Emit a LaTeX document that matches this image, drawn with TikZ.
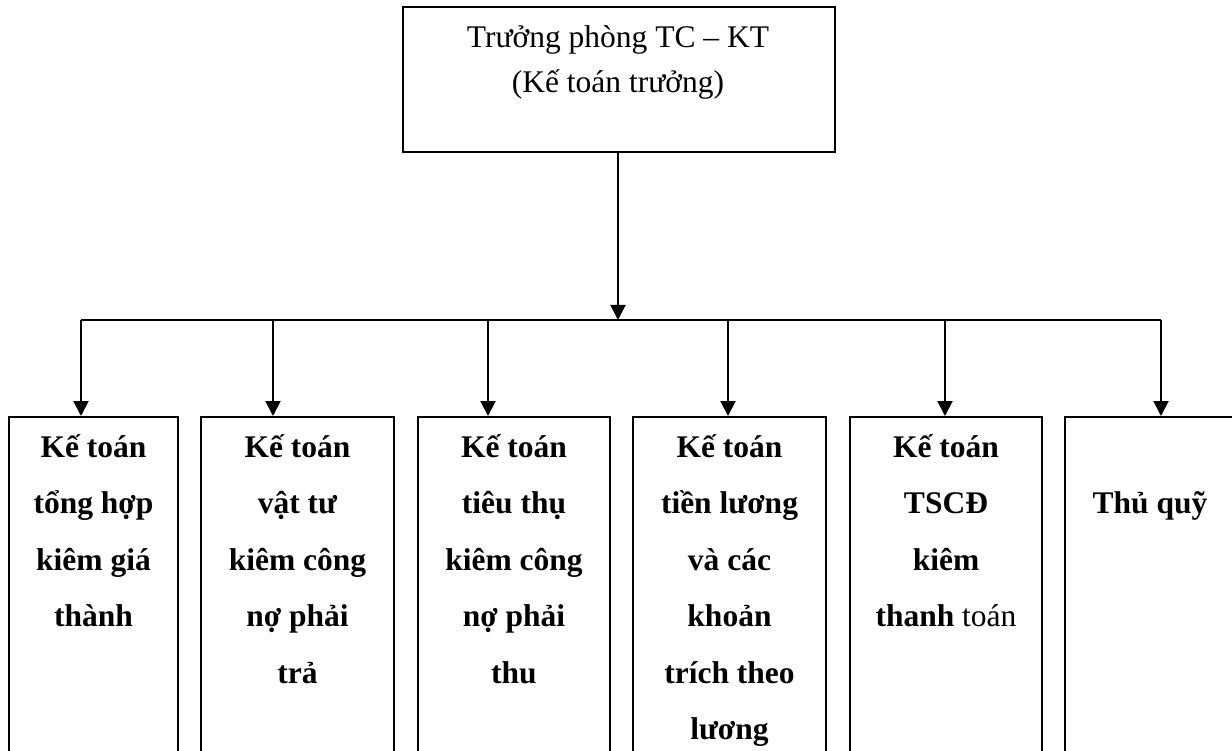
\documentclass[tikz,border=0pt]{standalone}
\usepackage{fontspec}
\setmainfont{Liberation Serif}
\usetikzlibrary{arrows.meta}
\begin{document}
\begin{tikzpicture}[x=1pt,y=-1pt,
  link/.style={line width=2pt},
  arr/.style={link,-{Triangle[length=15pt,width=15pt]}},
  headbox/.style={draw,line width=2pt,inner sep=0pt,minimum width=432pt,minimum height=145pt},
  unitbox/.style={draw,line width=2pt,inner sep=0pt,anchor=north west,minimum height=350pt},
  headtext/.style={inner sep=0pt,anchor=base,font=\fontsize{31.5}{45}\selectfont},
  unittext/.style={inner sep=0pt,anchor=base,font=\fontsize{31.5}{56.5}\selectfont\bfseries}]
\useasboundingbox (0,0) rectangle (1232,751);
\clip (0,0) rectangle (1232,751);

% chief accountant
\node[headbox] (head) at (619,79.5) {};
\node[headtext] (headlbl) at (618,48)
  {\begin{tabular}[t]{@{}c@{}}Trưởng phòng TC – KT\\(Kế toán trưởng)\end{tabular}};

% accounting units (open at the bottom of the page)
\node[unitbox,minimum width=169pt] (u1) at (8,416) {};
\node[unitbox,minimum width=193pt] (u2) at (200,416) {};
\node[unitbox,minimum width=192pt] (u3) at (417,416) {};
\node[unitbox,minimum width=193pt] (u4) at (632,416) {};
\node[unitbox,minimum width=192pt] (u5) at (849,416) {};
\node[unitbox,minimum width=170pt] (u6) at (1064,416) {};

\node[unittext] (l1) at (u1.north |- 0,457)
  {\begin{tabular}[t]{@{}c@{}}Kế toán\\tổng hợp\\kiêm giá\\thành\end{tabular}};
\node[unittext] (l2) at (u2.north |- 0,457)
  {\begin{tabular}[t]{@{}c@{}}Kế toán\\vật tư\\kiêm công\\nợ phải\\trả\end{tabular}};
\node[unittext] (l3) at (u3.north |- 0,457)
  {\begin{tabular}[t]{@{}c@{}}Kế toán\\tiêu thụ\\kiêm công\\nợ phải\\thu\end{tabular}};
\node[unittext] (l4) at (u4.north |- 0,457)
  {\begin{tabular}[t]{@{}c@{}}Kế toán\\tiền lương\\và các\\khoản\\trích theo\\lương\end{tabular}};
\node[unittext] (l5) at (u5.north |- 0,457)
  {\begin{tabular}[t]{@{}c@{}}Kế toán\\TSCĐ\\kiêm\\thanh {\mdseries toán}\end{tabular}};
\node[unittext] (l6) at (u6.north |- 0,513) {Thủ quỹ};

% distribution bus
\coordinate (hub) at (618,320);
\coordinate (t1) at (81,320);
\coordinate (t2) at (273,320);
\coordinate (t3) at (488,320);
\coordinate (t4) at (728,320);
\coordinate (t5) at (945,320);
\coordinate (t6) at (1161,320);

\draw[arr] (hub |- head.south) -- (hub);
\draw[link] (t1) -- (t6);
\foreach \i in {1,...,6}
  \draw[arr] (t\i) -- (t\i |- u\i.north);
\end{tikzpicture}
\end{document}
